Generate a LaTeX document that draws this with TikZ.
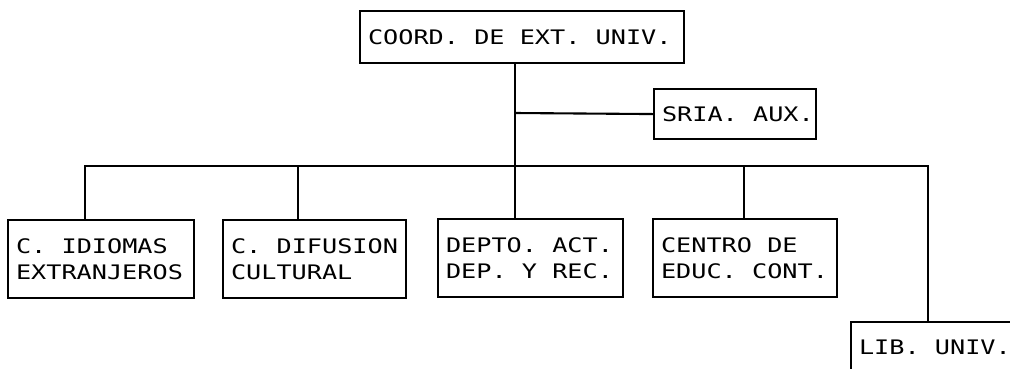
\documentclass[tikz,border=0pt]{standalone}
\usepackage{fontspec}
\newfontfamily\pix[FakeStretch=1.26]{DejaVu Sans Mono}
\newcommand{\pixwide}{\spaceskip=15.2pt\relax}
\begin{document}
\begin{tikzpicture}[x=1pt,y=-1pt,
  every node/.style={font=\pix\fontsize{20}{26}\selectfont, execute at begin node=\pixwide},
  box/.style={draw, line width=2.1pt, anchor=north west, align=left,
    inner xsep=8pt, inner ysep=0pt},
  link/.style={line width=2.1pt}]
\useasboundingbox (0,0) rectangle (1010,368);
% boxes
\node[box, text width=308pt, minimum height=52pt] (top) at (359,10) {\mbox{COORD. DE EXT. UNIV.}};
\node[box, text width=146pt, minimum height=50pt] (sria) at (653,88) {\mbox{SRIA. AUX.}};
\node[box, text width=170pt, minimum height=78pt] (c1) at (7,219) {\mbox{C. IDIOMAS}\\\mbox{EXTRANJEROS}};
\node[box, text width=167pt, minimum height=78pt] (c2) at (222,219) {\mbox{C. DIFUSION}\\\mbox{CULTURAL}};
\node[box, text width=169pt, minimum height=78pt] (c3) at (437,218) {\mbox{DEPTO. ACT.}\\\mbox{DEP. Y REC.}};
\node[box, text width=168pt, minimum height=78pt] (c4) at (652,218) {\mbox{CENTRO DE}\\\mbox{EDUC. CONT.}};
\node[box, text width=180pt, minimum height=50pt] (lib) at (850,321) {\mbox{LIB. UNIV.}};
% junctions
\coordinate (j) at (515,113);
\coordinate (bm) at (515,166);
\coordinate (b1) at (85,166);
\coordinate (b2) at (298,166);
\coordinate (b4) at (744,166);
\coordinate (b5) at (928,166);
% connectors
\draw[link] (top.south -| j) -- (bm);
\draw[link] (j) -- (sria.west);
\draw[link] (c1.north -| b1) -- (b1) -- (b5) -- (lib.north -| b5);
\draw[link] (c2.north -| b2) -- (b2);
\draw[link] (c3.north -| bm) -- (bm);
\draw[link] (c4.north -| b4) -- (b4);
\end{tikzpicture}
\end{document}
